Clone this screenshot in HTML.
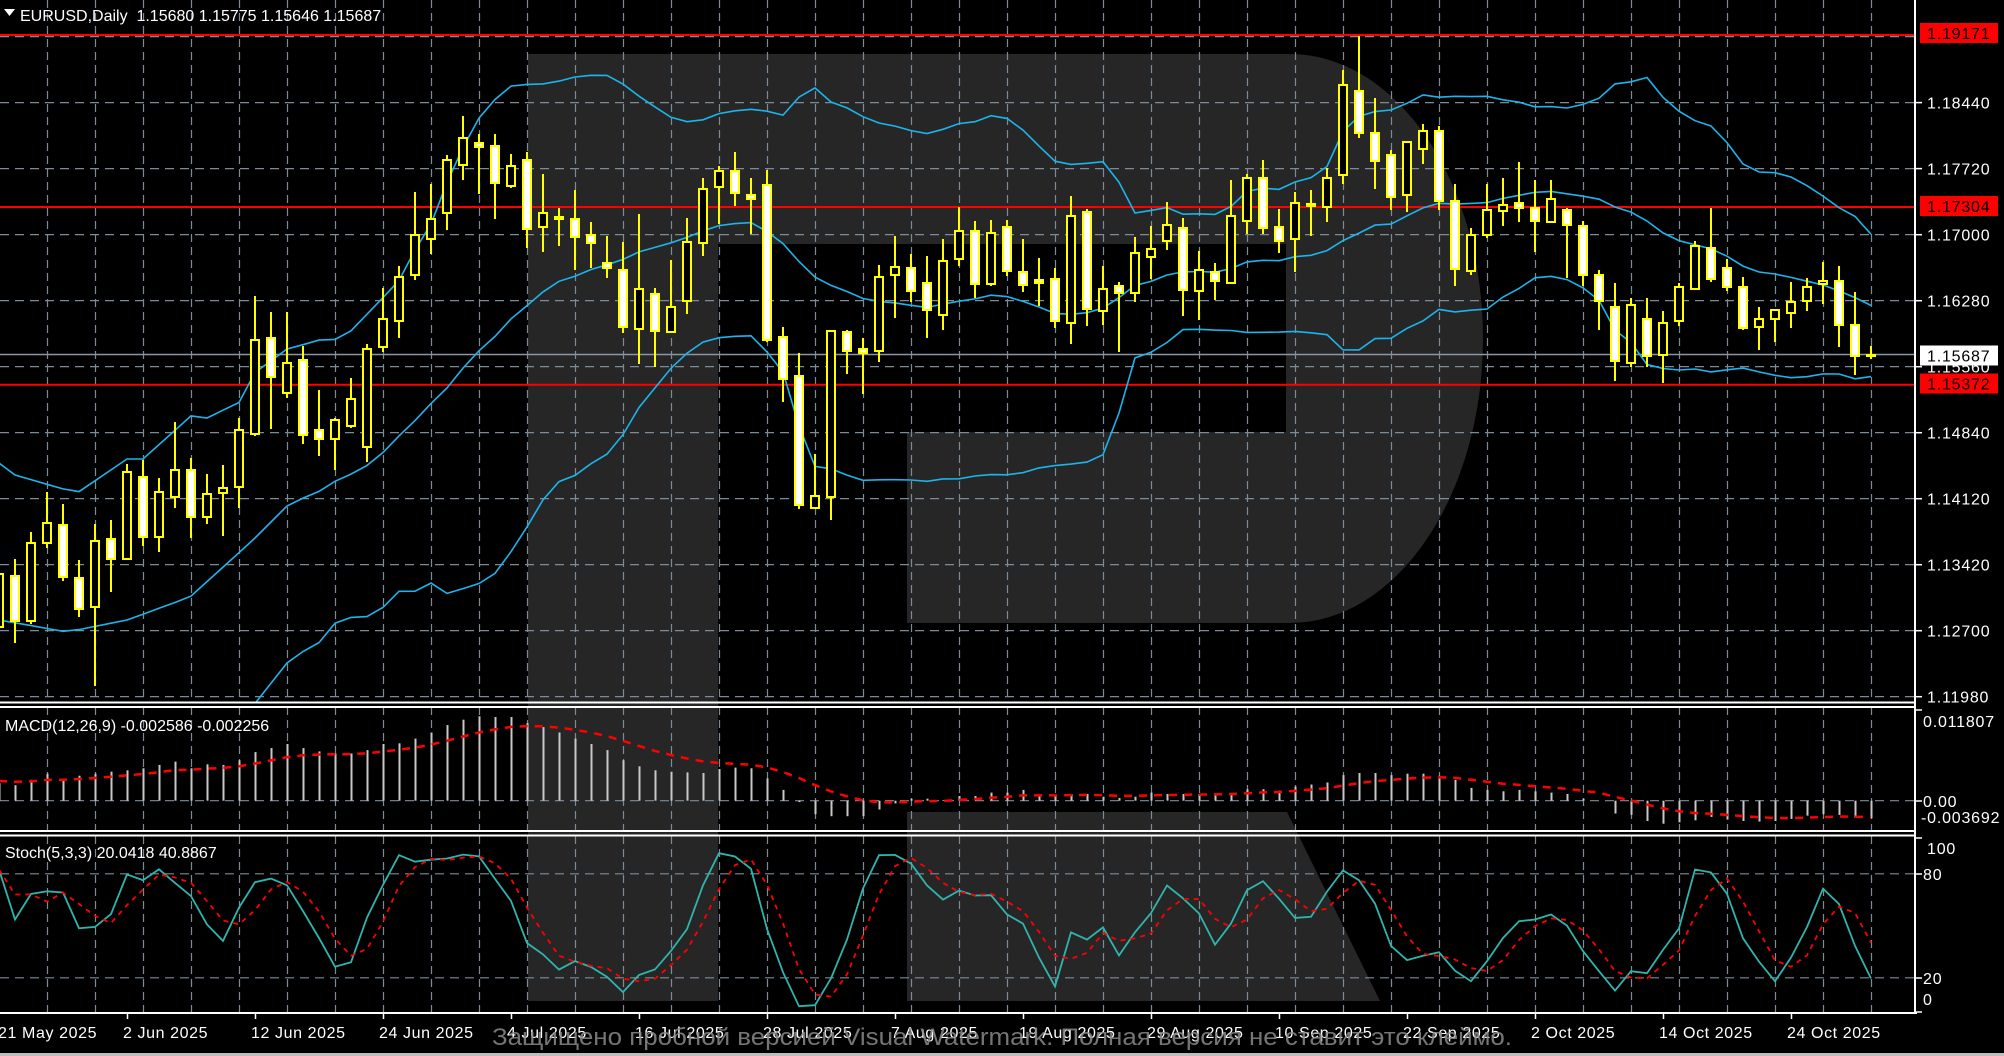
<!DOCTYPE html>
<html><head><meta charset="utf-8">
<style>
html,body{margin:0;padding:0;background:#000;width:2004px;height:1056px;overflow:hidden}
svg{display:block}
text{font-family:"Liberation Sans",sans-serif}
</style></head>
<body>
<div id="c"></div>
<script>
var W=2004,H=1056;
var D=[[560,574,627,640,'H'],[559,576,621,643,'W'],[532,543,621,624,'H'],[492,523,543,548,'H'],[504,525,577,581,'W'],
[560,578,609,617,'W'],[524,541,607,686,'H'],[520,539,559,592,'W'],[464,472,559,559,'H'],[460,477,537,546,'W'],
[478,492,537,552,'H'],[422,470,497,508,'H'],[458,470,517,538,'W'],[474,494,517,524,'H'],[465,488,493,536,'H'],
[418,430,487,508,'H'],[296,340,434,436,'H'],[312,338,377,429,'W'],[312,363,393,398,'H'],[346,360,435,444,'W'],
[390,430,439,456,'W'],[418,420,439,470,'H'],[378,399,426,428,'H'],[344,349,447,462,'H'],[288,319,347,352,'H'],
[266,277,321,338,'H'],[192,235,275,280,'H'],[184,219,239,254,'H'],[155,160,213,230,'H'],[116,138,165,180,'H'],
[134,143,147,194,'W'],[134,146,183,219,'W'],[154,166,186,188,'H'],[152,160,229,248,'W'],[174,213,227,252,'H'],
[208,217,219,246,'W'],[190,219,237,270,'W'],[222,235,243,268,'W'],[236,263,268,278,'W'],[242,270,327,333,'W'],
[214,289,329,364,'H'],[288,294,331,367,'W'],[260,307,332,333,'H'],[218,242,301,314,'H'],[178,189,243,256,'H'],
[166,171,187,224,'H'],[152,171,193,206,'W'],[178,195,199,234,'W'],[170,185,340,342,'W'],[327,337,379,402,'W'],
[353,376,505,509,'W'],[454,496,508,509,'H'],[330,331,497,520,'H'],[330,332,351,374,'W'],[338,349,353,394,'W'],
[265,277,351,362,'H'],[236,267,275,318,'H'],[254,268,291,302,'W'],[256,283,310,338,'W'],[239,261,315,330,'H'],
[207,231,259,266,'H'],[221,231,284,298,'W'],[220,233,284,286,'H'],[220,227,271,276,'W'],[239,272,285,292,'W'],
[258,280,283,306,'W'],[268,279,321,328,'W'],[196,216,323,344,'H'],[209,212,309,326,'W'],[266,289,311,325,'H'],
[282,286,293,352,'W'],[237,253,293,302,'H'],[226,249,257,279,'H'],[202,225,241,250,'H'],[218,228,290,316,'W'],
[251,270,291,320,'H'],[263,272,281,300,'W'],[180,216,283,283,'H'],[174,178,221,234,'H'],[160,178,228,234,'W'],
[209,227,241,253,'W'],[192,203,239,272,'H'],[190,204,206,236,'H'],[168,178,207,222,'H'],[70,85,175,184,'H'],
[36,91,133,138,'W'],[98,133,161,189,'W'],[150,155,197,210,'W'],[141,142,195,212,'H'],[124,131,149,164,'H'],
[126,131,201,210,'W'],[184,201,269,286,'W'],[228,235,271,275,'H'],[184,210,235,238,'H'],[178,205,211,226,'H'],
[162,203,208,222,'W'],[180,208,221,252,'W'],[180,199,222,223,'H'],[208,210,225,278,'W'],[221,226,275,286,'W'],
[270,275,301,330,'W'],[283,307,361,381,'W'],[298,305,363,367,'H'],[298,319,356,367,'W'],[311,323,355,383,'H'],
[283,287,321,326,'H'],[241,246,289,289,'H'],[208,248,279,282,'W'],[259,268,287,291,'W'],[277,287,328,330,'W'],
[307,319,327,350,'H'],[309,310,319,342,'H'],[282,302,313,328,'H'],[278,287,301,311,'H'],[262,281,284,304,'H'],
[266,281,325,347,'W'],[292,325,356,375,'W'],[346,355,356,359,'H']];
var M=[.0026,.0023,.0031,.0040,.0031,.0037,.0040,.0043,.0045,.0048,.0053,.0058,.0048,.0054,.0053,.0060,.0072,.0078,.0084,.0078,
.0073,.0070,.0070,.0075,.0084,.0085,.0092,.0101,.0112,.0120,.0125,.0124,.0124,.0115,.0109,.0101,.0092,.0084,.0075,.0060,
.0051,.0045,.0043,.0042,.0041,.0047,.0049,.0048,.0033,.0016,-.0002,-.0020,-.0023,-.0023,-.0023,-.0013,-.0004,.0003,.0003,.0001,
.0007,.0007,.0012,.0012,.0016,.0008,.0008,.0010,.0010,.0006,.0004,.0006,.0012,.0010,.0010,.0010,.0011,.0011,.0017,.0017,
.0015,.0021,.0024,.0027,.0038,.0041,.0041,.0038,.0040,.0040,.0037,.0031,.0019,.0016,.0014,.0016,.0014,.0012,.0010,.0003,
.0000,-.0019,-.0021,-.0030,-.0034,-.0032,-.0029,-.0024,-.0028,-.0030,-.0031,-.0030,-.0027,-.0022,-.0020,-.0021,-.0025,-.0026];
function bx(i){return 16*i-1;}
function pr(y){return 1.17-(y-234.7)*0.0072/66;}
function py(p){return 234.7+(1.17-p)/0.0072*66;}
var s='<svg xmlns="http://www.w3.org/2000/svg" width="2004" height="1056" viewBox="0 0 2004 1056">';
s+='<rect width="2004" height="1056" fill="#000"/>';
s+='<defs><clipPath id="cm"><rect x="0" y="0" width="1915" height="703"/></clipPath><clipPath id="cs"><rect x="0" y="836" width="1915" height="177"/></clipPath></defs>';
// watermark R
var g='#262626';
s+='<rect x="528" y="54" width="190" height="947" fill="'+g+'"/>';
s+='<path d="M528,54 H1290 A193,284.5 0 0 1 1290,623 H907 V432 H1286 V244 H718 V623 H528 Z" fill="'+g+'"/>';
s+='<polygon points="907,812 1287,812 1380,1001 907,1001" fill="'+g+'"/>';
// grid horizontal main
var gc='#7d8b99';
for(var k=0;k<11;k++){var y=36.6+66*k; s+='<line x1="0" x2="1915" y1="'+y+'" y2="'+y+'" stroke="'+gc+'" stroke-width="1.2" stroke-dasharray="9,6"/>';}
// vertical grid
for(var i=3;i<=117;i+=3){var x=bx(i)+0.5;
 s+='<line x1="'+x+'" x2="'+x+'" y1="0" y2="703" stroke="'+gc+'" stroke-width="1.2" stroke-dasharray="8,5"/>';
 s+='<line x1="'+x+'" x2="'+x+'" y1="707" y2="831" stroke="'+gc+'" stroke-width="1.2" stroke-dasharray="8,5"/>';
 s+='<line x1="'+x+'" x2="'+x+'" y1="836" y2="1013" stroke="'+gc+'" stroke-width="1.2" stroke-dasharray="8,5"/>';}
// sub grid
s+='<line x1="0" x2="1915" y1="800.7" y2="800.7" stroke="'+gc+'" stroke-width="1.2" stroke-dasharray="9,6"/>';
s+='<line x1="0" x2="1915" y1="873.8" y2="873.8" stroke="'+gc+'" stroke-width="1.2" stroke-dasharray="9,6"/>';
s+='<line x1="0" x2="1915" y1="977.8" y2="977.8" stroke="'+gc+'" stroke-width="1.2" stroke-dasharray="9,6"/>';
// red lines & bid
s+='<line x1="0" x2="1915" y1="35" y2="35" stroke="#ff0000" stroke-width="2"/>';
s+='<line x1="0" x2="1915" y1="207" y2="207" stroke="#ff0000" stroke-width="2"/>';
s+='<line x1="0" x2="1915" y1="384.7" y2="384.7" stroke="#ff0000" stroke-width="2"/>';
s+='<line x1="0" x2="1915" y1="354.5" y2="354.5" stroke="#8a96a3" stroke-width="1.5"/>';
// Bollinger
var cl=D.map(function(d){return pr(d[4]=='H'?d[1]:d[2]);});
var up=[],mid=[],lo=[];
function interp(pts,x){for(var j=0;j<pts.length-1;j++){if(x>=pts[j][0]&&x<=pts[j+1][0]){var t=(x-pts[j][0])/(pts[j+1][0]-pts[j][0]);return pts[j][1]+t*(pts[j+1][1]-pts[j][1]);}}return pts[pts.length-1][1];}
var tu=[[-1,463],[15,475],[77,493],[127,459],[143,459],[192,415],[207,418],[240,402],[253,374],[287,349],[303,342]];
var tm=[[-1,620],[67,632],[127,620],[190,597],[253,540],[287,506],[303,494]];
for(var i=0;i<D.length;i++){
 if(i<19){var u=interp(tu,bx(i)),m=interp(tm,bx(i));up.push(u);mid.push(m);lo.push(2*m-u);}
 else{var sm=0;for(var j=i-19;j<=i;j++)sm+=cl[j];sm/=20;var v=0;for(var j=i-19;j<=i;j++)v+=(cl[j]-sm)*(cl[j]-sm);var sd=Math.sqrt(v/20);
 up.push(py(sm+2*sd));mid.push(py(sm));lo.push(py(sm-2*sd));}
}
function pl(arr,col,w,dash,yf){var p='';for(var i=0;i<arr.length;i++){p+=bx(i)+','+(yf?yf(arr[i]):arr[i]).toFixed(1)+' ';}
 return '<polyline points="'+p+'" fill="none" stroke="'+col+'" stroke-width="'+w+'"'+(dash?' stroke-dasharray="'+dash+'"':'')+'/>';}
s+='<g clip-path="url(#cm)">'+pl(up,'#1cb4ec',1.6)+pl(mid,'#1cb4ec',1.6)+pl(lo,'#1cb4ec',1.6)+'</g>';
// candles
for(var i=0;i<D.length;i++){var d=D[i],x=bx(i);
 s+='<line x1="'+x+'" x2="'+x+'" y1="'+d[0]+'" y2="'+d[3]+'" stroke="#ffff00" stroke-width="2"/>';
 var h=d[2]-d[1];
 if(h<3){s+='<rect x="'+(x-5)+'" y="'+(d[1]-1)+'" width="10" height="'+(h+2)+'" fill="#ffff00"/>';}
 else s+='<rect x="'+(x-4)+'" y="'+d[1]+'" width="8" height="'+h+'" fill="'+(d[4]=='W'?'#fff':'#000')+'" stroke="#ffff00" stroke-width="2"/>';
}
// MACD
function my(v){return 800.7-v*6750;}
for(var i=0;i<M.length;i++){var x=bx(i)+0.5;s+='<line x1="'+x+'" x2="'+x+'" y1="800.7" y2="'+my(M[i]).toFixed(1)+'" stroke="#c8c8c8" stroke-width="2"/>';}
var sg=[],e=0.0030;for(var i=0;i<M.length;i++){e=e+0.2*(M[i]-e);sg.push(e);}
s+=pl(sg,'#ff0000',2.5,'8,7',my);
// Stoch
var hi=D.map(function(d){return pr(d[0]);}),lw=D.map(function(d){return pr(d[3]);});
var K=[],Dd=[];
for(var i=0;i<D.length;i++){var nu=0,de=0;
 for(var t=Math.max(0,i-2);t<=i;t++){var hh=-1,ll=9;for(var j=Math.max(0,t-4);j<=t;j++){hh=Math.max(hh,hi[j]);ll=Math.min(ll,lw[j]);}nu+=cl[t]-ll;de+=hh-ll;}
 K.push(de>0?nu/de*100:50);}
for(var i=0;i<K.length;i++){var a=0,n=0;for(var j=Math.max(0,i-2);j<=i;j++){a+=K[j];n++;}Dd.push(a/n);}
function sy(v){return 1012.5-v*1.733;}
s+='<g clip-path="url(#cs)">'+pl(K,'#2fb5ad',1.8,null,sy)+pl(Dd,'#ff0000',1.8,'5,5',sy)+'</g>';
// borders
s+='<rect x="0" y="701.5" width="1915" height="2" fill="#fff"/>';
s+='<rect x="0" y="706" width="1915" height="2" fill="#fff"/>';
s+='<rect x="0" y="830" width="1915" height="2" fill="#fff"/>';
s+='<rect x="0" y="834.5" width="1915" height="2" fill="#fff"/>';
s+='<rect x="0" y="1012" width="1917" height="2" fill="#fff"/>';
s+='<rect x="1914" y="0" width="2" height="1014" fill="#fff"/>';
// price axis
var pl2=[['1.18440',102.6],['1.17720',168.6],['1.17000',234.7],['1.16280',300.7],['1.15560',366.7],['1.14840',432.7],['1.14120',498.7],['1.13420',564.7],['1.12700',630.7],['1.11980',696.7]];
var ts='font-size="16" letter-spacing="0.8" fill="#fff"';
pl2.forEach(function(a){s+='<line x1="1916" x2="1922" y1="'+a[1]+'" y2="'+a[1]+'" stroke="#fff" stroke-width="1.5"/>';s+='<text x="1927" y="'+(a[1]+6)+'" '+ts+'>'+a[0]+'</text>';});
function box(t,y,bg){s+='<rect x="1920" y="'+(y-10)+'" width="78" height="20" fill="'+bg+'"/><text x="1927" y="'+(y+6)+'" font-size="16" letter-spacing="0.8" fill="#000">'+t+'</text>';}
box('1.19171',33,'#ff0000');box('1.17304',206,'#ff0000');box('1.15687',355.5,'#fff');box('1.15372',383.5,'#ff0000');
// MACD axis
[['0.011807',721],['0.00',801],['-0.003692',817]].forEach(function(a){s+='<text x="'+(a[0][0]=='-'?1921:1923)+'" y="'+(a[1]+6)+'" '+ts+'>'+a[0]+'</text>';});
s+='<line x1="1916" x2="1922" y1="710" y2="710" stroke="#fff" stroke-width="1.5"/><line x1="1916" x2="1922" y1="801" y2="801" stroke="#fff" stroke-width="1.5"/>';
[['100',848],['80',874],['20',978],['0',999]].forEach(function(a){s+='<text x="'+(a[0]=='100'?1927:1923)+'" y="'+(a[1]+6)+'" '+ts+'>'+a[0]+'</text>';});
[838,874,978,1012].forEach(function(y){s+='<line x1="1916" x2="1922" y1="'+y+'" y2="'+y+'" stroke="#fff" stroke-width="1.5"/>';});
// titles
s+='<polygon points="4,9 15,9 9.5,16" fill="#fff"/>';
s+='<text x="20" y="21" font-size="16" fill="#fff">EURUSD,Daily&#160;&#160;1.15680 1.15775 1.15646 1.15687</text>';
s+='<text x="5" y="731" font-size="16" fill="#fff">MACD(12,26,9) -0.002586 -0.002256</text>';
s+='<text x="5" y="858" font-size="16" fill="#fff">Stoch(5,3,3) 20.0418 40.8867</text>';
// dates
var dl=['21 May 2025','2 Jun 2025','12 Jun 2025','24 Jun 2025','4 Jul 2025','16 Jul 2025','28 Jul 2025','7 Aug 2025','19 Aug 2025','29 Aug 2025','10 Sep 2025','22 Sep 2025','2 Oct 2025','14 Oct 2025','24 Oct 2025'];
for(var k=0;k<dl.length;k++){var x=bx(8*k);
 if(k>0)s+='<line x1="'+(x+0.5)+'" x2="'+(x+0.5)+'" y1="1013" y2="1019" stroke="#fff" stroke-width="1.5"/>';
 s+='<text x="'+(k==0?-2:x-4)+'" y="1038" font-size="16" letter-spacing="0.6" fill="#fff">'+dl[k]+'</text>';}
s+='<text x="492" y="1045" font-size="24" fill="#8a8a8a" fill-opacity="0.85" textLength="1020" lengthAdjust="spacingAndGlyphs">Защищено пробной версией Visual Watermark. Полная версия не ставит это клеймо.</text>';
s+='<rect x="0" y="1053" width="2004" height="3" fill="#bdbdbd"/>';
s+='</svg>';
document.getElementById('c').innerHTML=s;
</script>
</body></html>
